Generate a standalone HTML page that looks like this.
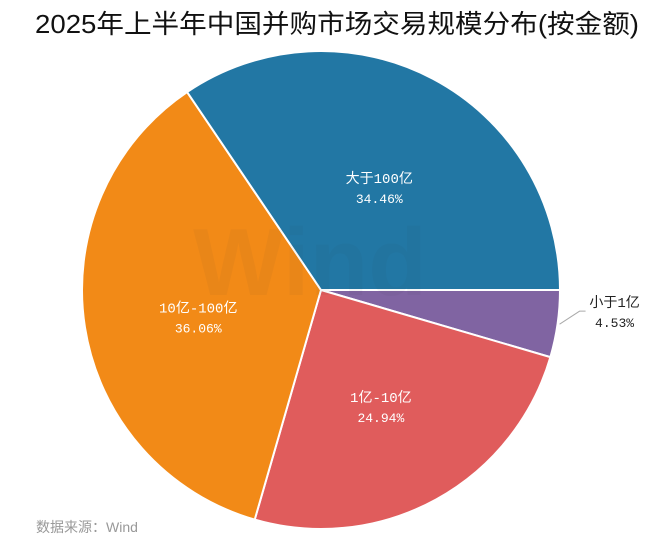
<!DOCTYPE html>
<html><head><meta charset="utf-8"><style>
html,body{margin:0;padding:0;background:#fff;}
svg{display:block;}
</style></head><body>
<svg id="chart" width="672" height="542" viewBox="0 0 672 542">
<text x="337" y="33" text-anchor="middle" font-family="'Liberation Sans','Noto Sans CJK SC',sans-serif" font-size="26" textLength="604" lengthAdjust="spacingAndGlyphs" fill="#111">2025年上半年中国并购市场交易规模分布(按金额)</text>
<g id="slices"></g>
<text x="310" y="295" text-anchor="middle" font-family="'Liberation Sans',sans-serif" font-weight="bold" font-size="96" fill="#333" opacity="0.04">Wind</text>
<g id="labels"></g>
<text x="36" y="532" font-family="'Liberation Sans','Noto Sans CJK SC',sans-serif" font-size="14" fill="#999">数据来源：Wind</text>
</svg>
<script>
const categories = ['小于1亿','1亿-10亿','10亿-100亿','大于100亿'];
const values = [4.53, 24.94, 36.06, 34.46];
const valueLabels = ['4.53%','24.94%','36.06%','34.46%'];
const colors = ['#8064a2','#e05c5c','#f28a17','#2277a4'];
const cx=321, cy=290, r=239;
const NS='http://www.w3.org/2000/svg';
const total=values.reduce((a,b)=>a+b,0);
const sg=document.getElementById('slices'), lg=document.getElementById('labels');
let a0=0;
function pt(a,rr){return [cx+rr*Math.cos(a), cy+rr*Math.sin(a)];}
values.forEach((v,i)=>{
  const a1=a0+v/total*2*Math.PI;
  const p0=pt(a0,r), p1=pt(a1,r);
  const large=(a1-a0)>Math.PI?1:0;
  const path=document.createElementNS(NS,'path');
  path.setAttribute('d',`M${cx},${cy} L${p0[0]},${p0[1]} A${r},${r} 0 ${large} 1 ${p1[0]},${p1[1]} Z`);
  path.setAttribute('fill',colors[i]);
  path.setAttribute('stroke','#fff');
  path.setAttribute('stroke-width','2');
  
  
  sg.appendChild(path);
  const mid=(a0+a1)/2;
  const font="'Liberation Mono','Noto Sans CJK SC',sans-serif";
  let lx,ly,anchor='middle',fill='#fff';
  if(v/total<0.1){
    const e=pt(mid,r+2), k=[e[0]+20,e[1]-13];
    const ln=document.createElementNS(NS,'polyline');
    ln.setAttribute('points',`${e[0]},${e[1]} ${k[0]},${k[1]} ${k[0]+6},${k[1]}`);
    ln.setAttribute('fill','none');ln.setAttribute('stroke','#aaa');
    
    
    lg.appendChild(ln);
    lx=k[0]+35; ly=k[1]-4; fill='#222';
  } else {
    const p=pt(mid,r*0.52); lx=p[0]; ly=p[1]+3;
  }
  const t1=document.createElementNS(NS,'text');
  t1.setAttribute('x',lx);t1.setAttribute('y',ly);
  t1.setAttribute('text-anchor',anchor);t1.setAttribute('fill',fill);
  t1.setAttribute('font-family',font);t1.setAttribute('font-size','14');
  t1.textContent=categories[i];
  
  
  lg.appendChild(t1);
  const t2=document.createElementNS(NS,'text');
  t2.setAttribute('x',lx);t2.setAttribute('y',ly+20);
  t2.setAttribute('text-anchor',anchor);t2.setAttribute('fill',fill);
  t2.setAttribute('font-family',font);t2.setAttribute('font-size','13');
  t2.textContent=valueLabels[i];
  
  
  lg.appendChild(t2);
  a0=a1;
});
</script>
</body></html>
